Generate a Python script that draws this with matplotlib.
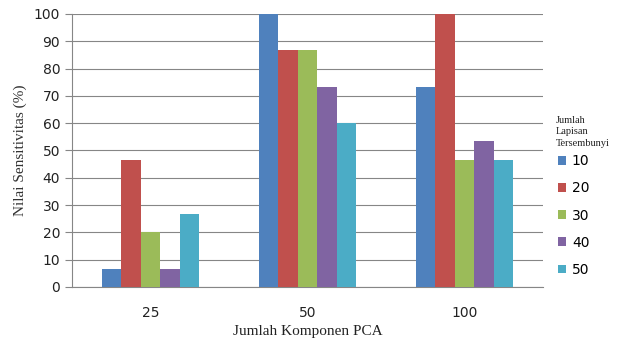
import numpy as np
import matplotlib
matplotlib.use('Agg')
import matplotlib.pyplot as plt

groups = ['25', '50', '100']
series = ['10', '20', '30', '40', '50']
vals_10 = [6.67, 100, 73.33]
vals_20 = [46.67, 86.67, 100]
vals_30 = [20, 86.67, 46.67]
vals_40 = [6.67, 73.33, 53.33]
vals_50 = [26.67, 60, 46.67]
colors = ['#4F81BD', '#C0504D', '#9BBB59', '#8064A2', '#4BACC6']

data = [vals_10, vals_20, vals_30, vals_40, vals_50]

fig = plt.figure(figsize=(6.22, 3.40), dpi=100)
ax = fig.add_axes([0.1158, 0.156, 0.757, 0.803])

x = np.arange(len(groups))
w = 0.124
for i in range(len(series)):
    ax.bar(x + (i - 2) * w, data[i], w, color=colors[i], label=series[i], zorder=3)

ax.set_xlim(-0.5, 2.5)
ax.set_ylim(0, 100)
ax.set_yticks(np.arange(0, 101, 10))
ax.set_xticks(x)
ax.set_xticklabels(groups)
ax.grid(axis='y', color='#868686', linewidth=0.8, zorder=0)
for s in ['top', 'right']:
    ax.spines[s].set_visible(False)
ax.spines['left'].set_color('#868686')
ax.spines['bottom'].set_color('#868686')
ax.tick_params(axis='y', colors='#868686', length=5, labelcolor='#222222', labelsize=10)
ax.tick_params(axis='x', length=0, pad=14, labelcolor='#222222', labelsize=10)

ax.set_ylabel('Nilai Sensitivitas (%)', family='Liberation Serif', fontsize=11, color='#333333', labelpad=5)
ax.set_xlabel('Jumlah Komponen PCA', family='Liberation Serif', fontsize=11, color='#222222', labelpad=3)

# legend title drawn separately so it sits like the excel one
fig.text(0.893, 1 - 116 / 340, 'Jumlah\nLapisan\nTersembunyi', family='Liberation Serif',
         fontsize=7.5, linespacing=1.35, va='top', ha='left', color='#222222')
leg = fig.legend(loc='upper left', bbox_to_anchor=(0.886, 0.567), frameon=False,
                 handlelength=0.6, handleheight=0.6,
                 labelspacing=0.95, handletextpad=0.4, fontsize=10, borderpad=0)

fig.savefig('out.png', dpi=100)
